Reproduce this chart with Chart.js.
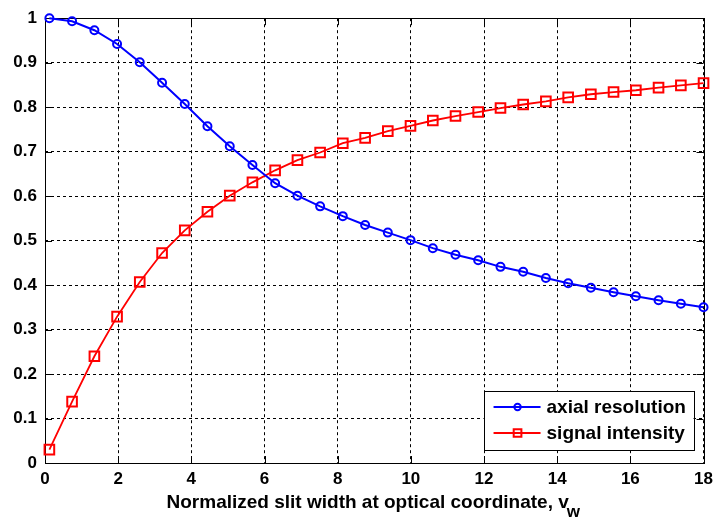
<!DOCTYPE html>
<html>
<head>
<meta charset="utf-8">
<script src="https://cdn.jsdelivr.net/npm/chart.js@4"></script>
<style>
  html, body { margin: 0; padding: 0; background: #fff; }
  #wrap { width: 719px; height: 521px; }
</style>
</head>
<body>
<div id="wrap"><canvas id="c" width="719" height="521"></canvas></div>
<script>
// Normalized slit width v_w at which each value was computed
const slitWidth = [0.12, 0.74, 1.35, 1.97, 2.59, 3.20, 3.82, 4.44, 5.05, 5.67,
                   6.29, 6.90, 7.52, 8.14, 8.75, 9.37, 9.99, 10.60, 11.22, 11.84,
                   12.45, 13.07, 13.69, 14.30, 14.92, 15.54, 16.15, 16.77, 17.38, 18.00];

// Normalized axial resolution
const axialResolution = [1.000, 0.993, 0.973, 0.942, 0.901, 0.855, 0.807, 0.757, 0.712, 0.670,
                         0.629, 0.601, 0.577, 0.555, 0.535, 0.518, 0.501, 0.483, 0.468, 0.456,
                         0.441, 0.430, 0.416, 0.404, 0.394, 0.384, 0.375, 0.366, 0.358, 0.350];

// Normalized detected signal intensity
const signalIntensity = [0.030, 0.138, 0.240, 0.329, 0.407, 0.472, 0.523, 0.565, 0.601, 0.631,
                         0.658, 0.681, 0.698, 0.719, 0.731, 0.746, 0.758, 0.770, 0.780, 0.789,
                         0.798, 0.806, 0.813, 0.822, 0.829, 0.834, 0.838, 0.844, 0.849, 0.854];

const seriesLabels = ['axial resolution', 'signal intensity'];
const xTitle = 'Normalized slit width at optical coordinate, v';
const xTitleSub = 'w';

const FONT = "'Liberation Sans', Arial, Helvetica, sans-serif";

function pairs(xs, ys) { return xs.map((x, i) => ({ x: x, y: ys[i] })); }

// Solid axes box with short inward ticks on all four sides
const boxPlugin = {
  id: 'boxPlugin',
  beforeDatasetsDraw(chart) {
    const { ctx, chartArea: a, scales } = chart;
    const t = 7;
    ctx.save();
    ctx.strokeStyle = '#000';
    ctx.lineWidth = 1;
    ctx.setLineDash([]);
    ctx.beginPath();
    scales.x.ticks.forEach(tk => {
      const px = Math.round(scales.x.getPixelForValue(tk.value)) + 0.5;
      ctx.moveTo(px, a.bottom); ctx.lineTo(px, a.bottom - t);
      ctx.moveTo(px, a.top); ctx.lineTo(px, a.top + t);
    });
    scales.y.ticks.forEach(tk => {
      const py = Math.round(scales.y.getPixelForValue(tk.value)) + 0.5;
      ctx.moveTo(a.left, py); ctx.lineTo(a.left + t, py);
      ctx.moveTo(a.right, py); ctx.lineTo(a.right - t, py);
    });
    ctx.stroke();
    ctx.strokeRect(Math.round(a.left) + 0.5, Math.round(a.top) + 0.5,
                   Math.round(a.right - a.left), Math.round(a.bottom - a.top));
    ctx.restore();
  }
};

// Boxed legend in the lower right of the plot area
const legendBoxPlugin = {
  id: 'legendBoxPlugin',
  afterDatasetsDraw(chart) {
    const { ctx, chartArea: a } = chart;
    const w = 210, h = 59;
    const x0 = a.right - 10 - w, y0 = a.bottom - 13 - h;
    ctx.save();
    ctx.fillStyle = '#fff';
    ctx.fillRect(x0, y0, w, h);
    ctx.strokeStyle = '#000';
    ctx.lineWidth = 1;
    ctx.strokeRect(Math.round(x0) + 0.5, Math.round(y0) + 0.5, w, h);
    ctx.font = 'bold 19px ' + FONT;
    ctx.textBaseline = 'middle';
    ctx.textAlign = 'left';
    chart.data.datasets.forEach((ds, i) => {
      const cy = y0 + 16 + i * 26;
      ctx.strokeStyle = ds.borderColor;
      ctx.lineWidth = ds.borderWidth;
      ctx.beginPath();
      ctx.moveTo(x0 + 10, cy); ctx.lineTo(x0 + 57, cy);
      ctx.stroke();
      ctx.fillStyle = 'rgba(0,0,0,0)';
      ctx.strokeStyle = ds.pointBorderColor;
      ctx.lineWidth = ds.pointBorderWidth;
      Chart.helpers.drawPoint(ctx, {
        pointStyle: ds.pointStyle, radius: ds.pointRadius * 0.8, borderWidth: ds.pointBorderWidth, rotation: 0
      }, x0 + 34, cy);
      ctx.fillStyle = '#000';
      ctx.fillText(ds.label, x0 + 63, cy + 1);
    });
    ctx.restore();
  }
};

// X-axis title with subscripted w
const xTitlePlugin = {
  id: 'xTitlePlugin',
  afterDraw(chart) {
    const { ctx, chartArea: a } = chart;
    ctx.save();
    ctx.fillStyle = '#000';
    ctx.textBaseline = 'alphabetic';
    ctx.textAlign = 'left';
    ctx.font = 'bold 19px ' + FONT;
    const w1 = ctx.measureText(xTitle).width;
    ctx.font = 'bold 17px ' + FONT;
    const w2 = ctx.measureText(xTitleSub).width;
    const x0 = (a.left + a.right) / 2 - (w1 + w2) / 2;
    const base = a.bottom + 45;
    ctx.font = 'bold 19px ' + FONT;
    ctx.fillText(xTitle, x0, base);
    ctx.font = 'bold 17px ' + FONT;
    ctx.fillText(xTitleSub, x0 + w1 - 2, base + 9);
    ctx.restore();
  }
};

new Chart(document.getElementById('c'), {
  type: 'scatter',
  data: {
    datasets: [
      {
        label: seriesLabels[0],
        data: pairs(slitWidth, axialResolution),
        showLine: true,
        borderColor: '#0000ff',
        backgroundColor: 'rgba(0,0,0,0)',
        borderWidth: 2,
        pointStyle: 'circle',
        pointRadius: 4,
        pointBorderWidth: 2,
        pointBorderColor: '#0000ff',
        pointBackgroundColor: 'rgba(0,0,0,0)',
        clip: false
      },
      {
        label: seriesLabels[1],
        data: pairs(slitWidth, signalIntensity),
        showLine: true,
        borderColor: '#ff0000',
        backgroundColor: 'rgba(0,0,0,0)',
        borderWidth: 1.8,
        pointStyle: 'rect',
        pointRadius: 6.8,
        pointBorderWidth: 2,
        pointBorderColor: '#ff0000',
        pointBackgroundColor: 'rgba(0,0,0,0)',
        clip: false
      }
    ]
  },
  options: {
    responsive: false,
    animation: false,
    devicePixelRatio: 1,
    layout: { padding: { top: 13, right: 10, left: 0, bottom: 0 } },
    plugins: {
      legend: { display: false },
      tooltip: { enabled: false }
    },
    scales: {
      x: {
        type: 'linear',
        min: 0, max: 18,
        ticks: {
          stepSize: 2,
          padding: 6,
          color: '#000',
          font: { family: FONT, size: 17, weight: 'bold' },
          maxRotation: 0
        },
        grid: { color: '#000', lineWidth: 1, drawTicks: false },
        border: { display: false, dash: [3, 3] },
        afterFit(s) { s.height = 58; }
      },
      y: {
        type: 'linear',
        min: 0, max: 1,
        ticks: {
          stepSize: 0.1,
          padding: 8,
          color: '#000',
          font: { family: FONT, size: 17, weight: 'bold' },
          callback: v => String(Number(v.toFixed(1)))
        },
        grid: { color: '#000', lineWidth: 1, drawTicks: false },
        border: { display: false, dash: [3, 3] },
        afterFit(s) { s.width = 45; }
      }
    }
  },
  plugins: [boxPlugin, legendBoxPlugin, xTitlePlugin]
});
</script>
</body>
</html>
